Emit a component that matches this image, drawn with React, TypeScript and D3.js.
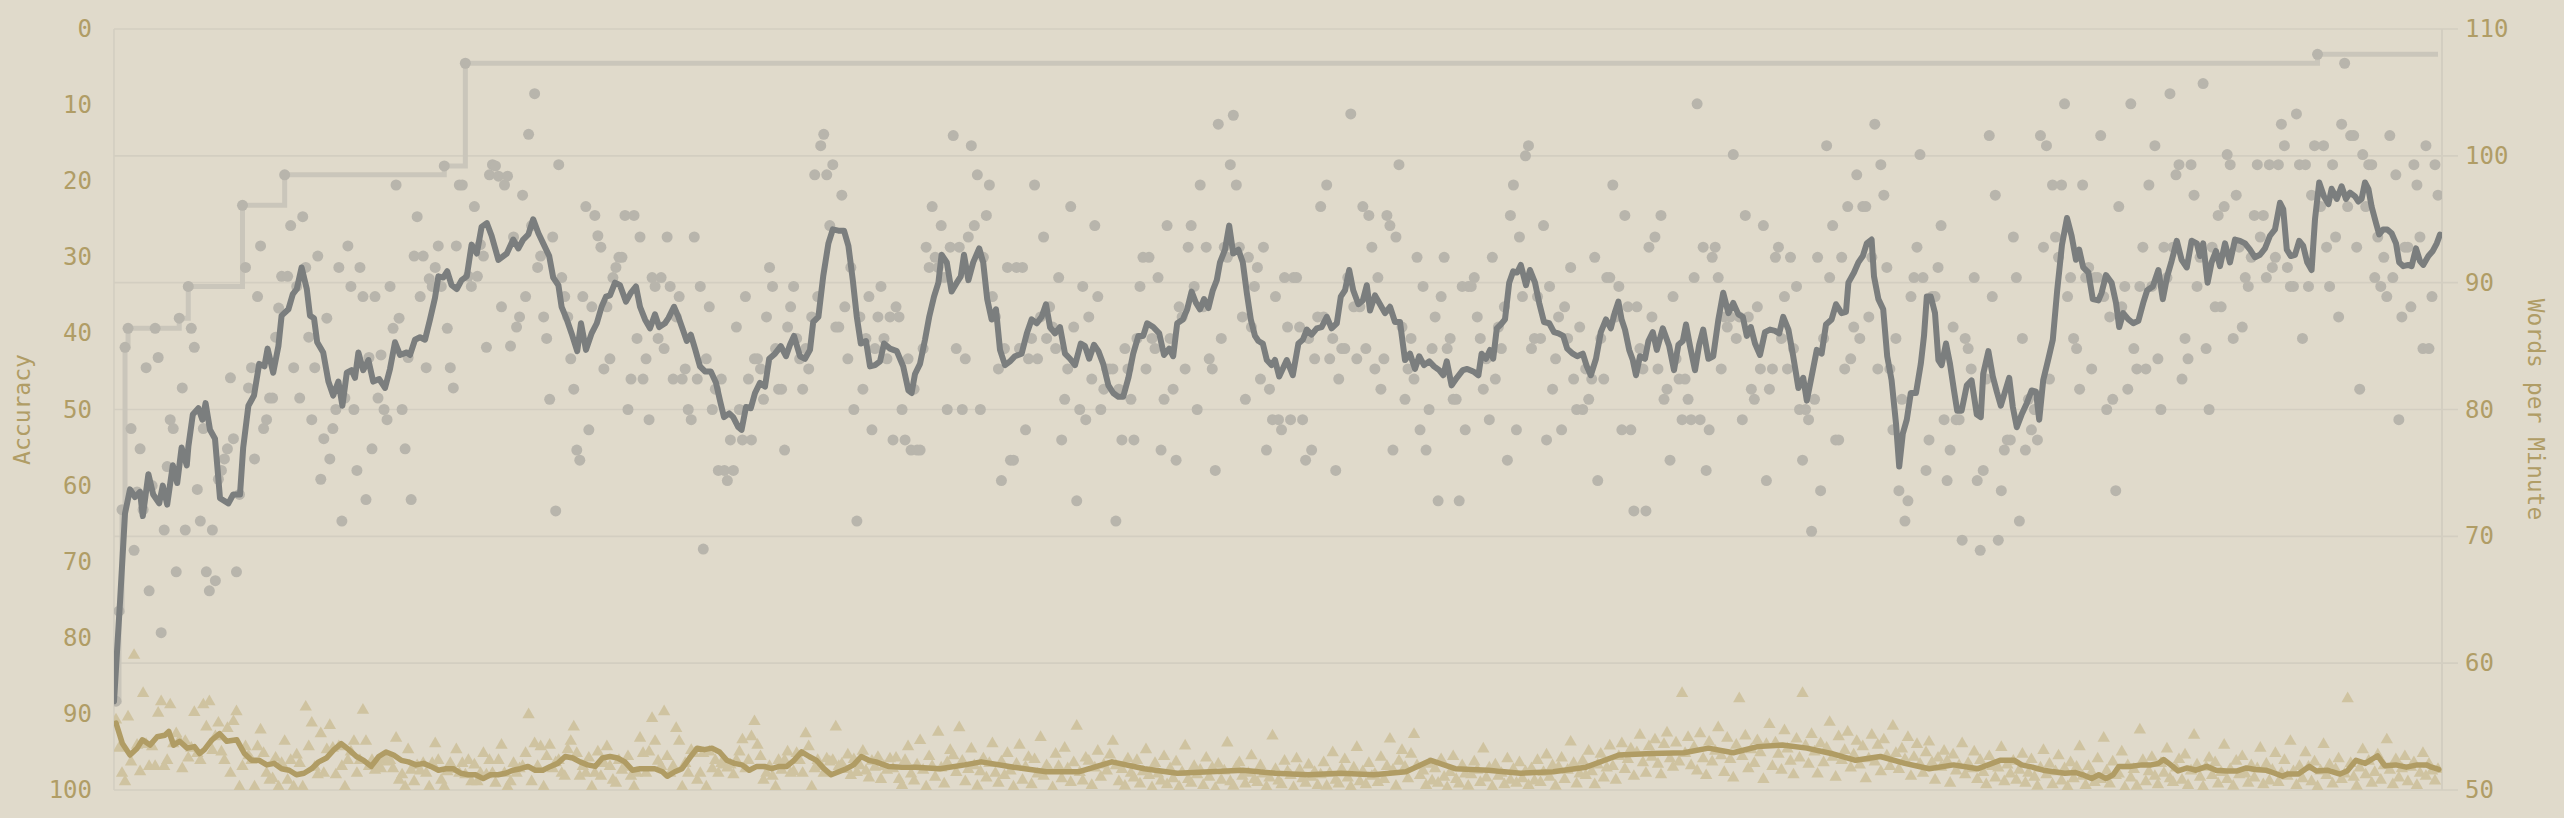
import React from 'react';
import * as d3 from 'd3';

const W = 2564;
const H = 818;
const PLOT = { left: 114, right: 2442, top: 29, bottom: 790 };

const WPM_TICKS = [50, 60, 70, 80, 90, 100, 110];
const ACC_TICKS = [0, 10, 20, 30, 40, 50, 60, 70, 80, 90, 100];
const WPM_DOMAIN = [50, 110];
const ACC_DOMAIN = [0, 100];

// words per minute for each test, left to right
const WPM: number[] = [
  57, 64.1, 72.1, 84.9, 86.4, 78.5, 68.9, 73.5, 76.9, 72.1, 83.3,
  65.7, 74.0, 86.4, 84.1, 62.4, 70.5, 75.5, 79.2, 78.5, 67.2,
  87.2, 81.7, 70.5, 89.7, 86.4, 84.9, 73.7, 71.2, 78.5, 67.2,
  65.7, 70.5, 66.5, 74.5, 75.2, 76.1, 76.9, 82.5, 77.7, 67.2, 73.3,
  96.1, 91.2, 81.7, 83.3, 76.1, 88.9, 92.9, 78.5, 79.2, 80.9,
  80.9, 85.7, 88.0, 90.5, 98.5, 90.5, 94.5, 83.3, 89.7, 80.9,
  95.2, 91.2, 85.7, 79.2, 83.3, 92.1, 74.5, 77.7, 87.2, 76.1,
  78.5, 80.0, 91.2, 71.2, 80.9, 92.9, 89.7, 80.0, 75.2, 91.2,
  88.9, 72.9, 84.1, 76.9, 88.9, 80.9, 84.3, 80.0, 79.2, 89.7,
  86.4, 97.7, 87.2, 80.0, 76.9, 84.1, 72.9, 92.1, 95.2, 88.9,
  92.1, 83.3, 90.3, 89.7, 91.2, 92.9, 89.7, 99.2, 86.4, 83.3,
  81.7, 92.9, 97.7, 97.7, 107.3, 90.5, 89.7, 96.0, 90.5, 93.0,
  92.1, 84.9, 98.5, 99.3,
  99.2, 98.4, 88.1, 97.7, 98.4, 85.0, 93.6, 86.5, 87.3, 96.9,
  88.9, 101.7, 94.5, 104.9, 91.2, 92.1, 87.3, 85.6, 80.8, 93.6,
  72.0, 99.3, 90.4, 88.9, 87.3, 84.0, 81.6, 76.8, 76.0, 88.9,
  96.0, 78.4, 88.1, 95.3, 93.7, 92.8, 83.2, 88.1, 84.0, 90.4,
  91.2, 92.0, 92.0, 95.3, 80.0, 82.4, 95.3, 85.6, 93.6, 82.4,
  84.0, 79.2, 90.4, 89.7, 85.6, 90.4, 84.8, 93.6, 89.7, 82.4,
  87.3, 88.9, 82.4, 83.2, 80.0, 79.2, 93.6, 82.4, 89.7, 69.0,
  84.0, 88.1, 80.0, 81.6, 75.2, 82.4, 75.2, 74.4, 77.6, 75.2,
  86.5, 80.0, 77.6, 88.9, 82.4, 77.6, 84.0, 84.0, 83.2, 80.8,
  87.3, 91.2, 89.7, 84.8, 81.6, 81.6, 76.8, 86.5, 88.1, 89.7,
  85.6, 84.0, 81.6, 84.8, 83.2, 87.3, 98.5, 88.9, 100.8, 101.7,
  98.5, 94.5, 99.3, 86.5, 86.5, 96.9, 88.1, 84.0, 91.2, 80.0,
  71.2, 87.3, 81.6, 85.6, 88.9, 78.4, 84.8, 87.3, 89.7, 85.6,
  84.0, 87.3, 77.6,
  88.1, 87.3, 80.0, 77.6, 84.0, 76.8, 81.6, 76.8, 76.8, 84.8,
  92.8, 91.2, 96.0, 92.0, 91.2, 94.5, 90.4, 80.0, 92.8, 101.6,
  84.8, 92.8, 80.0, 84.0, 93.6, 100.8, 94.5, 98.5, 80.0, 92.0,
  95.3, 97.7, 88.9, 87.3, 83.2, 74.4, 84.8, 91.2, 76.0, 76.0,
  91.2, 84.8, 91.2, 78.4, 84.0, 85.6, 97.7, 84.0, 87.3, 93.6,
  85.6, 88.1, 86.5, 84.8, 90.4, 77.6, 80.8, 83.2, 96.0, 86.5,
  72.8, 80.0, 89.7, 79.2, 87.3, 82.4, 94.5, 88.9, 80.0, 81.6,
  83.2, 83.2, 83.2, 71.2, 81.6, 77.6, 84.8, 83.2, 80.8, 77.6,
  85.6, 89.7, 92.0, 83.2, 92.0, 85.6, 84.8, 90.4, 76.8, 80.8,
  94.5, 85.6, 81.6, 76.0, 88.1, 87.3, 83.2, 92.8, 94.5, 89.7,
  80.0, 97.7, 88.1, 92.8, 84.0, 83.2, 75.2, 102.5, 85.6, 92.8,
  92.0, 99.3, 103.2, 97.7, 92.8, 87.3, 80.8, 92.0, 86.5, 89.7,
  91.2, 82.4, 92.8, 76.8, 81.6, 79.2, 88.9, 79.2, 78.4, 90.4,
  86.5, 79.2, 90.4,
  90.4, 86.5, 79.2, 76.0, 85.6, 76.8, 84.0, 87.3, 96.0, 87.3,
  97.7, 84.0, 85.6, 75.2, 82.4, 84.8, 84.8, 90.4, 103.3, 88.1,
  84.0, 88.1, 96.0, 84.8, 95.3, 92.8, 83.2, 90.4, 81.6, 84.0,
  95.3, 94.5, 76.8, 93.6, 99.3, 86.5, 80.8, 83.2, 85.6, 82.4,
  92.0, 78.4, 89.7, 76.8, 80.0, 84.8, 87.3, 72.8, 88.9, 92.0,
  84.8, 85.6, 80.8, 80.8, 72.8, 89.7, 78.4, 89.7, 89.7, 90.4,
  87.3, 85.6, 81.6, 84.0, 79.2, 92.0, 82.4, 86.5, 84.8, 88.1,
  76.0, 95.3, 97.7, 78.4, 93.6, 88.9, 100.0, 100.8, 84.8, 85.6,
  88.9, 85.6, 94.5, 77.6, 89.7, 81.6, 84.0, 87.3, 78.4, 88.1,
  85.6, 91.2, 82.4, 80.0, 86.5, 80.0, 83.2, 80.8, 82.4, 92.0,
  74.4, 85.6, 82.4, 90.4, 90.4, 97.7, 87.3, 89.7, 78.4, 95.3,
  88.1, 78.4, 72.0, 88.1, 84.8, 83.2, 72.0, 92.8, 87.3, 93.6,
  83.2, 95.3, 80.8, 81.6, 76.0, 88.9, 84.0, 82.4, 79.2,
  82.4, 80.8, 79.2, 90.4, 104.1, 79.2, 92.8, 75.2, 78.4, 92.0,
  92.8, 90.4, 83.2, 87.3, 86.5, 87.3, 100.1, 85.6, 87.3, 79.2,
  95.3, 87.3, 81.6, 80.8, 88.1, 83.2, 94.5, 74.4, 81.6, 83.2,
  92.0, 92.8, 85.6, 88.9, 83.2, 92.0, 84.8, 89.7, 80.0, 76.0,
  80.0, 79.2, 70.4, 80.8, 92.0, 73.6, 85.6, 100.8, 90.4, 94.5,
  77.6, 77.6, 92.0, 83.2, 96.0, 84.0, 86.5, 98.5, 85.6, 96.0,
  96.0, 87.3, 92.0, 102.5, 83.2, 99.3, 96.9, 91.2, 83.2, 78.4,
  85.6, 73.6, 80.8, 71.2, 72.8, 88.9, 90.4, 92.8, 100.1, 90.4,
  75.2, 77.6, 88.9, 88.9, 91.2, 94.5, 79.2, 74.4, 76.8, 86.5,
  79.2, 79.2, 69.7, 85.6, 84.8, 83.2, 90.4, 74.4, 68.9, 75.2,
  82.4, 101.6, 88.9, 96.9, 69.7, 73.6, 76.8, 77.6, 77.6, 93.6,
  90.4, 71.2, 85.6, 76.8, 80.8, 78.4, 80.0, 77.6, 101.6, 92.8,
  100.8, 82.4, 97.7, 93.6, 92.0,
  97.7, 104.1, 88.9, 90.4, 85.6, 84.8, 81.6, 97.7, 90.4, 91.2,
  83.2, 90.4, 90.4, 101.6, 88.9, 80.0, 87.3, 80.8, 73.6, 96.0,
  88.1, 89.7, 81.6, 104.1, 84.8, 83.2, 89.7, 92.8, 83.2, 97.7,
  89.7, 100.8, 84.0, 80.0, 92.8, 90.4, 104.9, 92.8, 98.5, 99.3,
  82.4, 85.6, 84.0, 99.3, 96.9, 89.7, 92.0, 105.7, 84.8, 80.0,
  92.8, 88.1, 95.3, 88.1, 96.0, 100.1, 99.3, 85.6, 96.9, 92.8,
  86.5, 90.4, 89.7, 92.0, 95.3, 99.3, 93.6, 95.3, 90.4, 99.3,
  91.2, 92.0, 99.3, 102.5, 100.8, 91.2, 89.7, 89.7, 103.3, 99.3,
  85.6, 99.3, 89.7, 96.9, 100.8, 108.0, 96.0, 100.8, 92.8, 89.7,
  99.3, 93.6, 87.3, 102.5, 107.3, 96.0, 101.6, 101.6, 92.8, 81.6,
  100.1, 96.0, 99.3, 99.3, 90.4, 93.6, 89.7, 92.0, 88.9, 101.6,
  90.4, 98.5, 79.2, 87.3, 92.8, 92.8, 88.1, 99.3, 97.7, 93.6,
  84.8, 100.8, 84.8, 88.9, 99.3, 96.9,
];

// accuracy (%) for each test, left to right
const ACC: number[] = [
  90.8, 94.5, 97.8, 98.9, 90.4, 96.3, 82.3, 94.1, 97.6, 87.3, 94.0,
  96.9, 94.3, 96.9, 89.9, 88.4, 96.9, 96.1, 88.8, 93.9, 92.6, 93.5,
  97.2, 93.6, 95.8, 94.5, 89.8, 95.2, 96.1, 88.8, 91.7, 88.4, 94.8, 93.0,
  91.2, 95.0, 96.1, 91.9, 97.8, 91.0, 89.7, 99.6, 96.9, 94.3, 95.5,
  96.1, 99.6, 94.3, 92.1, 95.2, 97.8, 98.7, 98.5, 95.8, 99.6, 96.5,
  93.6, 98.7, 96.1, 99.6, 95.4, 96.5, 99.6, 89.1, 94.3, 91.2, 97.0, 98.0,
  92.6, 97.8, 94.7, 91.5, 94.5, 98.0, 94.3, 96.9, 99.6, 96.1, 95.0,
  93.6, 97.8, 96.1, 89.5, 93.6, 96.9, 96.1, 97.4, 96.7, 97.2, 96.0,
  96.3, 96.1, 97.2, 93.2, 98.7, 98.0, 99.6, 94.7, 97.4, 98.9, 96.8, 97.5,
  96.5, 97.8, 99.6, 96.5, 93.9, 96.1, 98.7, 99.6, 97.6, 96.5, 97.3,
  94.7, 97.8, 96.5, 98.0, 96.1, 98.9, 96.7, 98.9, 97.8, 95.2, 98.0,
  96.1, 97.8, 99.1, 96.1, 94.1, 97.8, 99.6, 98.9, 96.5, 97.8, 97.2, 96.9,
  95.2, 90.1, 98.9, 93.9, 96.9, 94.3, 99.6, 95.6, 94.1, 97.2, 96.4,
  96.1, 97.8, 98.2, 94.7, 93.6, 91.7, 95.2, 98.2, 96.9, 97.8, 95.8,
  99.6, 97.8, 95.0, 98.2, 96.5, 94.3, 96.9, 98.7, 99.1, 96.1, 97.4, 97.0,
  95.6, 98.2, 99.6, 97.8, 93.2, 95.2, 97.8, 95.0, 90.6, 93.6, 96.2,
  96.9, 89.7, 95.6, 97.8, 96.9, 91.9, 93.6, 99.6, 96.5, 97.8, 94.8,
  95.2, 98.7, 97.8, 95.2, 99.6, 95.0, 97.2, 96.1, 97.8, 96.5, 96.7, 97.1,
  96.7, 98.0, 96.1, 95.0, 93.4, 97.2, 96.1, 93.0, 91.0, 94.1, 95.6,
  98.7, 97.8, 96.9, 98.2, 99.6, 96.1, 97.4, 96.1, 95.0, 97.8, 97.6,
  95.2, 96.1, 97.8, 92.6, 94.3, 99.6, 97.2, 96.1, 96.9, 97.8, 95.9, 96.3,
  96.1, 91.7, 96.9, 96.6, 97.3, 95.4, 98.1, 96.0, 97.7, 96.8,
  94.9, 97.5, 98.4, 96.2, 97.0, 95.7, 98.6, 96.9, 97.4, 95.9,
  97.2, 95.8, 98.6, 99.4, 96.1, 94.3, 97.9, 98.8, 96.7, 93.5,
  97.4, 99.6, 95.6, 96.9, 98.3, 92.4, 97.1, 99.2, 96.4, 94.8,
  95.5, 97.7, 91.8, 96.2, 98.9, 97.3, 94.6, 96.8, 99.5, 97.6,
  95.9, 98.4, 96.5, 93.9, 97.8, 99.1, 96.3, 98.1, 95.2, 97.5,
  99.6, 96.6, 94.1, 98.7, 97.0, 95.7, 99.3, 96.0, 97.9, 93.1,
  98.2, 96.8, 97.4, 99.7, 95.3, 96.9, 98.5, 94.5, 97.2, 99.0,
  96.4, 91.6, 97.7, 98.8, 95.8, 96.2, 99.4, 97.1, 94.9, 98.3,
  96.7, 97.5,
  95.4, 93.6, 96.8, 98.9, 97.3, 99.5, 95.9, 97.8, 98.4, 96.1,
  99.2, 97.6, 94.7, 98.1, 99.7, 96.5, 97.9, 98.8, 95.6, 99.3,
  97.2, 98.5, 96.3, 99.6, 97.7, 94.2, 98.6, 99.1, 96.9, 98.0,
  97.4, 99.4, 95.8, 98.3, 97.1, 99.8, 96.6, 98.7, 97.5, 93.8,
  98.9, 99.5, 97.0, 96.4, 98.2, 99.2, 97.8, 95.5, 98.6, 99.0,
  96.8, 97.9, 99.6, 98.4, 92.9, 97.3, 98.8, 99.3, 96.2, 97.6,
  98.1, 99.7, 95.9, 97.4, 98.5, 99.1, 96.7, 98.3, 97.7, 99.4,
  98.0, 96.4, 99.5, 97.8, 95.1, 98.7, 99.2, 97.3, 96.0, 98.4,
  99.6, 97.1, 94.4, 98.9, 97.6, 99.3, 96.5, 98.2, 97.9, 99.0,
  95.7, 98.6, 96.9, 93.3, 97.4, 99.5, 96.2, 94.8, 97.0, 98.5,
  95.3, 92.7, 96.8, 98.1, 97.5, 99.4, 96.6, 98.8, 97.2, 99.1,
  96.0, 98.3, 99.7, 97.7, 95.6, 98.6, 99.2, 96.8, 97.9, 99.5,
  98.0, 96.3, 97.4, 99.0, 94.6, 98.4, 97.1, 99.6, 96.7, 98.2,
  97.8, 99.3, 95.9, 98.7, 97.3, 99.1, 96.4, 98.5, 97.6, 99.4,
  97.2, 98.8, 96.1, 99.0, 97.7, 95.4, 98.3, 96.8, 99.5, 97.0,
  95.8, 98.6, 97.4, 93.7, 96.5, 99.2, 97.9, 96.2, 98.1, 94.9,
  97.6, 99.3, 96.7, 95.3, 98.4, 97.1, 94.2, 96.9, 98.7, 95.6,
  93.9, 97.3, 96.0, 94.6, 98.2, 95.1, 92.8, 96.4, 97.8, 94.3,
  95.7, 93.4, 96.6, 98.0, 94.0, 92.5, 95.9, 97.0, 93.8, 96.3,
  87.3, 95.2, 93.1, 96.8, 94.4, 97.5, 92.6, 95.9, 98.1, 93.7,
  96.3, 94.9, 91.8, 95.5, 97.7, 93.2, 96.0, 98.4, 94.1, 88.0,
  95.6, 92.9, 97.2, 94.7, 96.5, 93.5, 95.1, 98.6, 94.0, 91.4,
  96.9, 93.8, 95.3, 97.4, 92.2, 94.6, 96.2, 98.0, 93.3, 95.8,
  87.3, 94.2, 96.6, 92.7, 95.0, 97.9, 93.9, 96.4, 94.5, 91.1,
  95.7, 98.3, 93.0, 96.1, 94.8, 92.4, 97.1, 95.4, 93.6, 96.7,
  94.3, 98.5, 95.9, 92.8, 96.3, 94.1, 97.6, 93.4, 95.5, 96.9,
  91.6, 95.2, 97.3, 94.6, 96.0, 93.1, 98.2, 95.7, 94.0, 96.6,
  97.8, 95.1, 93.7, 96.4, 98.7, 95.8, 97.0, 94.9, 96.2, 99.1,
  95.4, 97.5, 96.8, 93.9, 98.0, 96.5, 97.2, 95.0, 98.6, 96.1,
  97.7, 99.3, 95.6, 96.9, 98.4, 97.1, 94.4, 98.9, 96.7, 97.9,
  96.2, 98.7, 97.4, 95.3, 99.1, 97.8, 96.0, 98.3, 99.5, 97.1,
  94.8, 98.0, 96.6, 99.3, 97.6, 95.5, 98.8, 97.2, 99.6, 96.4,
  98.5, 97.0, 94.3, 98.2, 99.4, 96.9, 97.7, 99.0, 95.9, 98.6,
  93.2, 97.5, 99.2, 96.3, 98.1, 97.9, 95.0, 99.7, 96.8, 98.4,
  97.3, 99.5, 92.1, 96.1, 98.9, 97.6, 95.7, 98.2, 99.3, 96.5,
  97.8, 94.6, 98.5, 99.0, 97.1, 96.0, 98.7, 95.4, 99.4, 97.5,
  92.8, 96.7, 98.3, 99.6, 97.0, 95.8, 98.1, 96.4, 99.2, 97.7,
  94.1, 98.6, 97.3, 99.5, 96.2, 98.0, 95.6, 97.9, 99.1, 96.8,
  98.4, 97.2, 94.5, 99.3, 96.6, 98.8, 97.4, 95.2, 99.0, 97.8,
  96.1, 98.2, 93.6, 97.6, 99.4, 96.9, 98.5, 95.1, 97.0, 98.9,
  96.3, 99.6, 97.5, 94.0, 98.1, 96.7, 99.2, 97.3, 95.9, 98.6,
  97.9, 88.0, 96.5, 98.3, 99.5, 97.1, 94.7, 98.0, 96.2, 99.1,
  97.7, 95.4, 98.7, 96.8, 93.4, 97.4, 99.3, 96.0, 98.4, 97.2,
  95.6, 98.9, 97.0, 96.4, 99.4, 97.8, 95.2, 98.2, 96.6, 97.5,
  98.8, 97.3,
];

// moving averages: [progress (0..582), value]
const AVG_SPAN = 582;
const WPM_AVG: [number, number][] = [
  [0,57],[1.5,64.8],[2.75,71.8],[4,73.7],[5.25,73.1],[6.5,73.5],[7.2,71.6],[8.6,74.9],[9.8,73.3],[11.3,72.6],
  [12.2,74.0],[13.3,72.5],[14.7,75.6],[15.8,74.2],[16.9,77.0],[18.2,75.6],[18.6,77.1],[19.7,79.6],[21.1,80.1],[22.1,79.2],
  [22.9,80.5],[24,78.4],[25.25,77.7],[26.5,73.0],[28.6,72.6],[29.8,73.3],[31.5,73.3],[32.3,77.0],[33.6,80.3],[35,81.1],
  [36.3,83.6],[37.6,83.4],[38.4,84.8],[39.8,82.9],[41.1,85.0],[41.9,87.4],[43.6,87.9],[44.7,89.1],[45.7,89.5],[46.9,91.2],
  [48.2,89.5],[49,87.4],[50,87.2],[50.8,85.3],[52.3,84.5],[53.6,82.2],[54.8,81.1],[56.1,82.2],[57.1,80.3],[58.2,82.9],
  [59.4,83.1],[60.25,82.5],[61.1,84.5],[62.3,83.1],[63.6,83.9],[64.8,82.2],[66.3,82.4],[67.75,81.7],[69,83.2],[70.25,85.3],
  [71.5,84.3],[73.2,84.5],[74,84.3],[75.25,85.5],[76.5,85.7],[77.75,85.5],[79,87.1],[80.25,88.8],[81.1,90.5],[82.3,90.4],
  [83.3,90.9],[84.4,89.8],[85.7,89.5],[86.9,90.2],[88.2,90.5],[89.4,93.0],[90.7,92.3],[91.9,94.4],[93.2,94.7],[94.4,93.7],
  [96.1,91.8],[98.2,92.3],[99.8,93.4],[101.1,92.7],[102.3,93.4],[103.6,93.8],[104.8,95.0],[106.1,93.9],[107.3,93.1],[108.8,92.1],
  [109.8,90.4],[111.1,89.8],[111.9,88.1],[113.2,87.1],[114.4,86.0],[115.8,84.6],[116.75,86.8],[118,84.7],[119.4,86.0],[120.7,86.8],
  [121.9,88.1],[123,88.9],[124,89.0],[125.25,90.0],[126.5,89.8],[128,88.5],[129.2,89.2],[130.5,89.7],[131.5,88.1],[132.75,87.1],
  [134,86.4],[135.25,87.5],[136.3,86.5],[137.75,86.8],[138.6,87.2],[140,88.1],[141.1,87.3],[142.2,86.3],[143.2,85.4],[144.2,85.9],
  [145.25,84.8],[146.5,83.4],[147.75,83.0],[149.2,83.0],[150.5,82.1],[151.5,80.7],[152.5,79.4],[153.8,79.7],[154.8,79.4],[156.1,78.6],
  [156.9,78.4],[158,80.2],[159.2,80.1],[160.25,81.3],[161.5,82.1],[162.75,81.8],[163.8,84.0],[165.25,84.4],[166.7,85.0],[168,84.2],
  [169,85.1],[170,85.8],[171.5,84.2],[172.75,84.0],[174,84.7],[174.8,86.9],[176.1,87.3],[177.3,90.5],[178.6,93.1],[179.7,94.2],
  [181.1,94.1],[182.5,94.1],[183.6,92.9],[184.7,90.2],[185.7,87.3],[186.7,85.2],[188,85.4],[189,83.4],[190.25,83.5],[191.5,83.8],
  [192.5,85.2],[194,84.8],[195.7,84.6],[197.3,83.4],[198.6,81.5],[199.4,81.3],[200.25,82.8],[201.5,83.6],[202.75,85.5],[203.8,87.3],
  [205,88.9],[206.1,90.0],[206.9,92.2],[208.2,91.6],[209.4,89.3],[210.7,90.0],[211.7,90.5],[212.5,92.2],[213.6,90.2],[214.8,91.6],
  [216.3,92.7],[217.3,91.6],[218.3,88.7],[219.4,87.1],[220.5,87.9],[221.5,84.7],[222.75,83.5],[224,83.8],[225.25,84.2],[226.9,84.4],
  [228.2,86.0],[229.4,87.1],[230.7,86.8],[231.9,87.3],[233,88.3],[234,86.5],[235.25,86.0],[236.5,86.5],[237.75,84.4],[239,84.0],
  [240.25,83.5],[241.7,85.2],[242.75,85.0],[243.8,84.0],[245,85.1],[246.1,84.6],[247.3,83.6],[248.6,81.9],[249.8,81.3],[251.1,81.0],
  [252.3,81.0],[253.6,82.5],[254.8,84.4],[256.1,85.8],[257.3,85.8],[258.3,86.8],[259.8,86.5],[261.3,86.0],[262.5,84.3],[263.8,84.8],
  [264.8,84.2],[265.8,86.8],[267.2,87.1],[268.3,87.9],[269.4,89.3],[270.5,88.4],[271.5,87.9],[272.5,88.7],[273.6,88.0],[274.7,89.4],
  [275.7,90.2],[276.5,91.6],[277.75,92.6],[278.8,94.5],[279.8,92.3],[281.1,92.6],[282.2,91.6],[283.2,89.2],[284.2,87.1],[285.25,85.8],
  [286.1,85.4],[287.2,85.2],[288.2,83.9],[289.4,83.5],[290.25,83.9],[291.3,82.6],[293.2,83.9],[294.7,82.7],[296.1,85.2],[297.2,85.5],
  [298.2,86.3],[299.4,85.9],[300.7,86.4],[301.9,86.5],[303.2,87.3],[304.4,86.4],[305.7,86.8],[306.7,88.9],[307.75,89.4],[308.8,91.0],
  [309.8,89.4],[311.1,88.3],[312.2,88.6],[313.2,89.8],[314,87.8],[315.25,89.0],[316.5,88.3],[317.75,87.6],[319,88.1],[320.25,86.9],
  [321.5,86.9],[322.75,83.9],[324,84.4],[325.25,83.2],[326.3,84.2],[327.5,83.5],[328.8,83.8],[330,83.4],[331.3,83.1],[332.3,82.7],
  [333.2,83.8],[334.4,81.9],[335.7,82.5],[337.2,83.1],[338.3,83.2],[339.8,83.0],[341.1,82.7],[341.9,84.4],[343,84.0],[344,84.7],
  [344.8,84.0],[345.7,86.4],[346.7,86.7],[347.75,87.1],[348.8,90.0],[349.8,90.9],[350.8,90.8],[351.7,91.4],[353,89.8],[354,91.0],
  [355.25,90.0],[356.3,88.4],[357.5,86.9],[358.8,86.8],[360,86.1],[361.1,86.0],[362.3,85.8],[363.3,84.8],[364.7,84.4],[365.8,84.2],
  [367.2,84.4],[368.2,83.4],[369.2,82.7],[370.5,84.0],[371.7,86.1],[373,87.1],[374.2,86.4],[375.25,87.7],[376.1,88.5],[376.9,87.1],
  [377.75,86.3],[378.8,84.7],[379.7,83.9],[380.5,82.7],[381.5,84.2],[382.75,84.0],[383.6,85.4],[384.7,86.1],[385.7,84.7],[387.2,86.4],
  [388.8,85.0],[390,83.1],[391.1,85.1],[392.2,85.4],[393,86.7],[394,85.0],[395.25,83.1],[396.3,85.1],[397.3,86.3],[398.6,84.0],
  [399.8,84.2],[401.1,87.1],[402.3,89.2],[403.6,87.6],[404.8,88.4],[406.1,87.5],[407.2,87.3],[408.2,85.8],[409.2,86.5],[410.25,85.2],
  [411.5,84.3],[412.75,86.1],[414,86.3],[415.25,86.2],[416.3,86.0],[417.3,87.3],[418.6,86.3],[419.8,84.2],[421.1,81.7],[422.3,82.5],
  [423.2,80.7],[424.4,82.6],[425.7,84.7],[426.9,84.4],[428,86.7],[429.4,87.1],[430.5,88.3],[431.9,87.6],[433,87.7],[433.6,90.0],
  [435,90.8],[436.1,91.6],[437.2,92.1],[438.2,93.1],[439.4,93.4],[440,90.5],[441.1,88.7],[442.3,87.9],[443.3,84.2],[444.4,82.3],
  [445.5,78.9],[446.3,75.5],[447.2,78.1],[448.2,79.2],[449.2,81.3],[450.5,81.3],[451.7,83.6],[452.5,85.8],[453.2,88.9],[454.2,88.9],
  [455.25,87.6],[456.1,83.9],[456.9,83.5],[458,85.2],[459,83.6],[460,81.5],[460.8,79.9],[461.9,79.9],[463.2,81.9],[464.4,82.3],
  [465.7,79.6],[466.7,79.4],[467.3,82.8],[468.6,84.6],[469.7,82.6],[470.7,81.4],[471.7,80.3],[472.75,81.4],[473.8,82.5],[474.7,80.2],
  [475.7,78.6],[476.9,79.6],[478.2,80.5],[479.4,81.5],[480.5,81.4],[481.3,79.2],[482.3,82.3],[483.6,84.0],[484.7,85.5],[485.8,89.4],
  [487,93.0],[488.25,95.1],[489.4,93.7],[490.5,91.8],[491.3,92.6],[492.3,91.2],[493.6,90.8],[494.7,88.7],[496.1,88.6],[496.9,89.2],
  [498,90.6],[499.4,90.0],[500.5,88.4],[501.3,86.5],[502.3,87.6],[503.6,87.1],[504.8,86.8],[506.1,87.0],[507.3,88.4],[508.3,89.4],
  [509.7,89.7],[511.1,91.0],[512.2,88.7],[513.3,90.5],[514.4,91.7],[515.7,93.3],[516.9,91.8],[518.2,91.2],[519.4,93.3],[520.7,93.1],
  [521.5,92.1],[522.3,93.1],[523.4,90.0],[524.4,91.6],[525.5,92.5],[526.5,91.3],[527.75,93.1],[529,91.6],[530.25,93.4],[531.5,93.3],
  [532.75,93.1],[534,92.6],[535.25,92.0],[536.5,92.2],[537.75,92.7],[539,93.7],[540.25,94.2],[541.5,96.3],[542.3,95.8],[543.2,92.6],
  [544.2,92.1],[545.25,92.2],[546.3,93.3],[547.3,92.9],[548.3,91.6],[549.4,91.0],[550.25,95.0],[551.3,97.9],[552.5,96.8],[553.6,96.2],
  [554.4,97.4],[555.7,96.6],[556.9,97.6],[558,96.6],[559,97.1],[560.25,96.8],[561.1,96.4],[561.9,96.6],[562.75,97.9],[563.6,97.4],
  [564.4,96.0],[565.5,94.7],[566.3,93.8],[567.3,94.2],[568.3,94.2],[569.4,93.9],[570.5,93.1],[571.3,91.6],[572.3,91.3],[573.6,91.4],
  [574.4,91.3],[575.5,92.7],[576.5,91.7],[577.3,91.4],[578.6,92.1],[579.7,92.5],[580.7,93.1],[581.5,93.8],
];

const ACC_AVG: [number, number][] = [
  [0.5,91.2],[2.1,93.9],[4.0,95.4],[5.8,94.5],[7.1,93.4],[9.0,94.1],[10.8,93.0],[12.7,92.8],[13.7,92.3],[14.9,94.1],
  [16.4,93.6],[18.3,94.5],[20.1,94.3],[21.4,95.2],[22.6,94.7],[24.5,93.4],[26.4,92.6],[28.2,93.6],[30.7,93.4],[32.6,95.2],
  [34.4,96.1],[36.3,96.1],[38.2,96.7],[40.0,96.5],[41.9,97.2],[43.8,97.4],[45.6,98.0],[47.5,97.8],[49.4,97.2],[51.2,96.3],
  [53.1,95.8],[55.0,94.7],[56.8,93.9],[58.7,94.7],[60.6,95.6],[62.4,96.1],[64.3,96.9],[66.2,95.6],[68.0,95.0],[69.9,95.4],
  [71.8,96.1],[73.6,96.3],[75.5,96.7],[77.4,96.5],[79.2,96.9],[81.1,97.4],[83.0,97.2],[84.8,97.2],[86.7,97.8],[88.6,98.0],
  [90.4,98.0],[92.3,98.5],[94.1,98.0],[96.0,98.0],[97.9,97.8],[99.7,97.4],[101.6,97.2],[103.5,96.9],[105.3,97.4],[107.2,97.4],
  [109.1,96.9],[110.9,96.5],[112.8,95.6],[114.7,95.8],[116.5,96.3],[118.4,96.7],[120.3,96.9],[122.1,95.8],[124.0,95.6],[125.9,95.8],
  [127.7,96.3],[129.6,97.4],[131.5,97.2],[133.3,97.2],[135.2,97.2],[137.1,97.6],[138.3,98.2],[140.2,97.6],[142.0,97.2],[143.9,95.8],
  [145.8,94.5],[147.6,94.7],[149.5,94.5],[151.4,95.0],[153.2,96.1],[155.1,96.5],[157.0,96.7],[158.8,97.4],[160.7,96.9],[162.6,96.9],
  [164.4,97.2],[166.3,96.9],[168.2,96.9],[170.0,96.1],[171.9,95.0],[173.8,95.6],[175.6,96.1],[177.5,97.2],[179.3,98.0],[181.2,97.6],
  [183.1,97.2],[184.9,96.7],[186.8,95.6],[188.7,96.1],[190.5,96.3],[193.6,96.9],[197,97.0],[200.4,97.0],[206.5,97.2],[212.7,96.7],
  [216.8,96.3],[224.9,97.0],[233.1,97.6],[241.3,97.6],[249.5,96.3],[257.6,97.2],[265.8,97.8],[274,97.6],[282.2,97.4],[290.3,97.8],
  [298.5,98.0],[306.7,97.8],[314.9,98.0],[323,97.6],[329.2,96.1],[335.3,97.2],[343.5,97.4],[351.6,97.8],[359.8,97.6],[368,97.0],
  [376.2,95.4],[384.4,95.2],[392.5,95.1],[398.6,94.5],[404.8,95.1],[410.9,94.3],[417.1,94.1],[423.2,94.5],[429.3,95.2],[435.4,96.1],
  [441.6,95.6],[447.7,96.5],[453.8,97.2],[459.9,96.7],[466,97.2],[471.5,96.1],[475.1,96.1],[476.9,96.7],[479.6,97.0],[482.3,97.4],
  [485,97.6],[487.7,97.8],[490.4,97.7],[492.2,98.0],[494.4,98.5],[496.2,98.0],[498,98.5],[499.8,98.0],[501.2,96.9],[503.9,96.9],
  [507,96.7],[509.3,96.7],[511.1,96.5],[512.4,96.0],[514.2,96.7],[516,97.5],[518.3,97.1],[520.5,97.4],[523.2,96.9],[525.5,97.4],
  [528.2,97.5],[530.8,97.5],[533.1,97.1],[535.4,97.3],[538,97.4],[540.7,97.9],[542.1,98.2],[543.4,97.9],[546.1,97.9],[548.8,96.9],
  [550.6,97.5],[553.3,97.4],[556.5,97.9],[558.3,97.5],[560.5,96.1],[562.8,96.5],[565.9,95.5],[567.7,96.8],[570.4,96.7],[573.1,97.0],
  [575.8,96.7],[578.1,96.7],[579.4,97.0],[581.2,97.3],
];

const COLORS = {
  bg: '#e0dacb',
  grid: '#d3cec1',
  text: '#b09d66',
  dot: '#b8b5ac',
  tri: '#cfc3a0',
  wpmLine: '#7b7e7e',
  accLine: '#b09c64',
  pb: '#cac6bb',
};

const FONT = "'DejaVu Sans Mono', monospace";

export default function App() {
  const yWpm = d3.scaleLinear().domain(WPM_DOMAIN).range([PLOT.bottom, PLOT.top]);
  const yAcc = d3.scaleLinear().domain(ACC_DOMAIN).range([PLOT.top, PLOT.bottom]);
  const xWpm = d3.scaleLinear().domain([0, WPM.length - 1]).range([116, 2438]);
  const xAcc = d3.scaleLinear().domain([0, ACC.length - 1]).range([116, 2438]);
  const xAvg = d3.scaleLinear().domain([0, AVG_SPAN]).range([PLOT.left, PLOT.right]);

  // personal best = running maximum of wpm
  const pb: number[] = [];
  WPM.forEach((v, i) => pb.push(i === 0 ? v : Math.max(pb[i - 1], v)));

  const pbPath = d3
    .line<number>()
    .x((_, i) => xWpm(i))
    .y((d) => yWpm(d))
    .curve(d3.curveStepAfter)(pb) as string;

  const wpmAvgPath = d3
    .line<[number, number]>()
    .x((d) => xAvg(d[0]))
    .y((d) => yWpm(d[1]))(WPM_AVG) as string;

  const accAvgPath = d3
    .line<[number, number]>()
    .x((d) => xAvg(d[0]))
    .y((d) => yAcc(d[1]))(ACC_AVG) as string;

  const tri = d3.symbol().type(d3.symbolTriangle).size(66)() as string;

  const midY = (PLOT.top + PLOT.bottom) / 2;

  return (
    <div style={{ position: 'fixed', left: 0, top: 0, width: W, height: H, background: COLORS.bg }}>
      <svg width={W} height={H} style={{ display: 'block' }} fontFamily={FONT}>
        <defs>
          <clipPath id="plotClip">
            <rect x={PLOT.left} y={PLOT.top} width={PLOT.right - PLOT.left} height={PLOT.bottom - PLOT.top} />
          </clipPath>
        </defs>
        <rect x={0} y={0} width={W} height={H} fill={COLORS.bg} />

        {WPM_TICKS.map((t) => (
          <line key={'g' + t} x1={PLOT.left} x2={PLOT.right + 16} y1={yWpm(t)} y2={yWpm(t)} stroke={COLORS.grid} strokeWidth={1.6} />
        ))}
        <line x1={PLOT.left} x2={PLOT.left} y1={PLOT.top} y2={PLOT.bottom} stroke={COLORS.grid} strokeWidth={1.6} />
        <line x1={PLOT.right} x2={PLOT.right} y1={PLOT.top} y2={PLOT.bottom} stroke={COLORS.grid} strokeWidth={2} />

        {ACC_TICKS.map((t) => (
          <text key={'a' + t} x={92} y={yAcc(t)} textAnchor="end" dominantBaseline="central" fontSize={24} fill={COLORS.text}>
            {t}
          </text>
        ))}
        {WPM_TICKS.map((t) => (
          <text key={'w' + t} x={2465} y={yWpm(t)} textAnchor="start" dominantBaseline="central" fontSize={24} fill={COLORS.text}>
            {t}
          </text>
        ))}
        <text
          x={22}
          y={midY}
          transform={`rotate(-90 22 ${midY})`}
          textAnchor="middle"
          dominantBaseline="central"
          fontSize={23}
          fill={COLORS.text}
        >
          Accuracy
        </text>
        <text
          x={2536}
          y={midY}
          transform={`rotate(90 2536 ${midY})`}
          textAnchor="middle"
          dominantBaseline="central"
          fontSize={23}
          fill={COLORS.text}
        >
          Words per Minute
        </text>

        <g clipPath="url(#plotClip)">
          <path d={pbPath} fill="none" stroke={COLORS.pb} strokeWidth={5} />
          {WPM.map((v, i) => (
            <circle key={'d' + i} cx={xWpm(i)} cy={yWpm(v)} r={5.5} fill={COLORS.dot} />
          ))}
          {ACC.map((v, i) => (
            <path key={'t' + i} d={tri} transform={`translate(${xAcc(i)},${yAcc(v)})`} fill={COLORS.tri} />
          ))}
          <path d={accAvgPath} fill="none" stroke={COLORS.accLine} strokeWidth={5.5} strokeLinejoin="round" strokeLinecap="round" />
          <path d={wpmAvgPath} fill="none" stroke={COLORS.wpmLine} strokeWidth={6} strokeLinejoin="round" strokeLinecap="round" />
        </g>
      </svg>
    </div>
  );
}
